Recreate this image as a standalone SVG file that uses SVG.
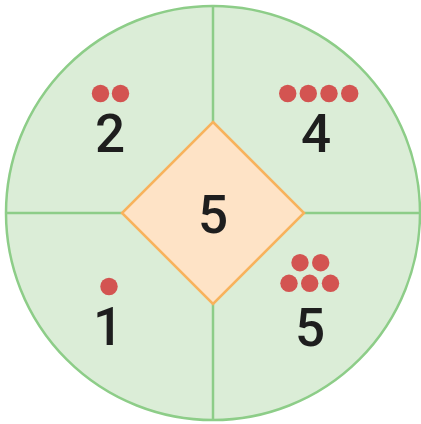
<svg xmlns="http://www.w3.org/2000/svg" width="421" height="424" viewBox="0 0 421 424">
<style>
.ln{stroke:#8dcd88;stroke-width:2.5;fill:none}
.num{font-family:Roboto,"Liberation Sans",sans-serif;font-size:53px;font-weight:500;fill:#1e1e1e;text-anchor:middle}
.dot{fill:#d35451}
</style>
<rect width="421" height="424" fill="#ffffff"/>
<g id="circle">
<circle cx="213" cy="213" r="207" fill="#dbedd7" stroke="#8dcd88" stroke-width="2.5"/>
</g>
<g id="connectors">
<line class="ln" x1="213" y1="6" x2="213" y2="122"/>
<line class="ln" x1="213" y1="304" x2="213" y2="420"/>
<line class="ln" x1="6" y1="213" x2="122" y2="213"/>
<line class="ln" x1="304" y1="213" x2="421" y2="213"/>
</g>
<g id="q2">
<circle class="dot" cx="100.5" cy="93.5" r="8.7"/>
<circle class="dot" cx="120.5" cy="93.5" r="8.7"/>
<text class="num" x="110" y="152">2</text>
</g>
<g id="q4">
<circle class="dot" cx="287.7" cy="93.5" r="8.7"/>
<circle class="dot" cx="308.3" cy="93.5" r="8.7"/>
<circle class="dot" cx="329" cy="93.5" r="8.7"/>
<circle class="dot" cx="349.7" cy="93.5" r="8.7"/>
<text class="num" x="316" y="152">4</text>
</g>
<g id="q1">
<circle class="dot" cx="109" cy="286.5" r="8.7"/>
<text class="num" x="108" y="345">1</text>
</g>
<g id="q5">
<circle class="dot" cx="300" cy="262.7" r="8.7"/>
<circle class="dot" cx="320.7" cy="262.7" r="8.7"/>
<circle class="dot" cx="289" cy="283.3" r="8.7"/>
<circle class="dot" cx="309.7" cy="283.3" r="8.7"/>
<circle class="dot" cx="330.5" cy="283.3" r="8.7"/>
<text class="num" x="310" y="346">5</text>
</g>
<g id="center">
<polygon points="213,122 304,213 213,304 122,213" fill="#fee3c6" stroke="#f8b25c" stroke-width="2.5"/>
<text class="num" x="213" y="232.5">5</text>
</g>
</svg>
